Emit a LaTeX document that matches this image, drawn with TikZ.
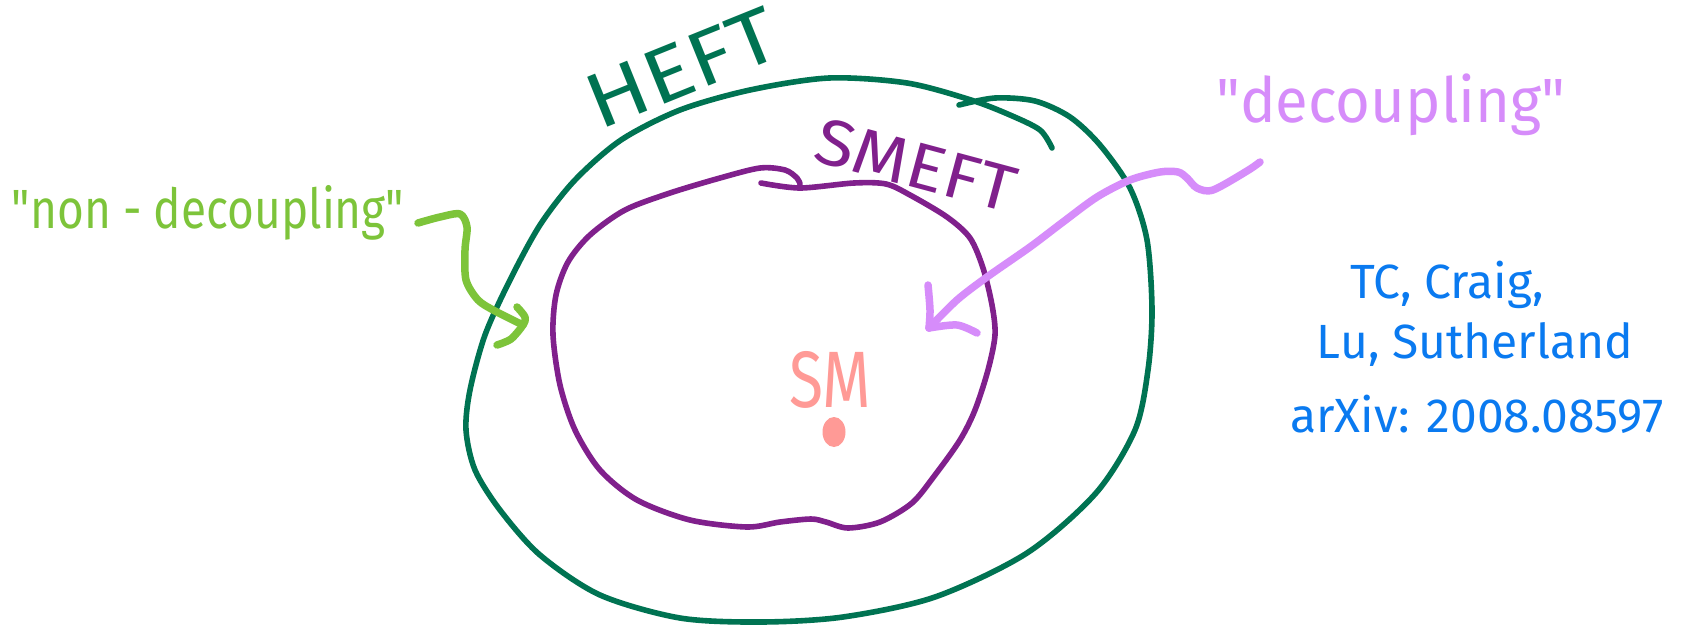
\documentclass[tikz,border=0pt]{standalone}
\usepackage{fontspec}
\newfontfamily\handfont{Fira Sans}
\definecolor{heftc}{RGB}{0,115,82}
\definecolor{smeftc}{RGB}{128,32,140}
\definecolor{nondecc}{RGB}{125,196,58}
\definecolor{decc}{RGB}{214,140,250}
\definecolor{smc}{RGB}{255,154,150}
\definecolor{authc}{RGB}{10,122,240}
\begin{document}
\begin{tikzpicture}[x=1pt,y=-1pt,
  pen/.style={line width=5.6pt, line cap=round, line join=round},
  arrowpen/.style={line width=7.5pt, line cap=round, line join=round},
  lbl/.style={inner sep=0pt, outer sep=0pt, transform shape}]
\useasboundingbox (0,0) rectangle (1693,627);
\fill[white] (0,0) rectangle (1693,627);

% HEFT boundary
\draw[pen, heftc] plot[smooth, tension=0.5] coordinates {
 (1052,148) (1040,130) (1010,115) (971,100) (907,83) (829,78) (750,90) (680,110)
 (621,140) (575,180) (540,225) (510,280) (485,335) (470,390) (466,430) (475,470)
 (500,510) (540,555) (600,595) (680,618) (761,622) (843,617) (935,597) (1027,553)
 (1096,493) (1135,430) (1148,370) (1152,310) (1147,240) (1130,188) (1100,145)
 (1070,117) (1035,101) (995,98) (959,105)};

% SMEFT boundary
\draw[pen, smeftc] plot[smooth, tension=0.5] coordinates {
 (761,183) (800,188) (854,183) (886,184) (910,195) (947,217) (970,238) (983,268)
 (992,305) (995,335) (988,370) (975,410) (960,440) (935,475) (912,503) (880,522)
 (848,528) (826,522) (811,519) (780,522) (747,527) (690,520) (637,500) (600,470)
 (575,430) (560,385) (553,335) (556,295) (568,262) (590,235) (625,210) (670,193)
 (720,178) (760,168) (785,170) (797,178) (800,184)};

% labels
\node[lbl, font=\handfont\fontsize{78}{80}\selectfont, text=heftc, rotate=22, xscale=1.15] (heftlbl) at (682,68) {HEFT};
\node[lbl, font=\handfont\fontsize{65}{67}\selectfont, text=smeftc, rotate=-15, xscale=1.1] (smeftlbl) at (916,165) {SMEFT};
\node[lbl, font=\handfont\fontsize{80}{82}\selectfont, text=smc, xscale=0.78] (smlbl) at (830,380) {SM};
\fill[smc] (834,432) ellipse [x radius=11.5pt, y radius=15pt];

\node[lbl, font=\handfont\fontsize{46}{48}\selectfont, text=nondecc, yscale=1.2, anchor=base] (ndlbl) at (208,228) {"non - decoupling"};
\node[lbl, font=\handfont\fontsize{52}{54}\selectfont, text=decc, xscale=1.15, yscale=1.2, anchor=base] (declbl) at (1391,122) {"decoupling"};

\node[lbl, font=\handfont\fontsize{48}{50}\selectfont, text=authc, anchor=base] (auth1) at (1447,298) {TC, Craig,};
\node[lbl, font=\handfont\fontsize{48}{50}\selectfont, text=authc, anchor=base] (auth2) at (1475,358) {Lu, Sutherland};
\node[lbl, font=\handfont\fontsize{48}{50}\selectfont, text=authc, anchor=base] (auth3) at (1477,432) {arXiv: 2008.08597};

% non-decoupling arrow
\coordinate (gstart) at (418,223);
\coordinate (gtip) at (523,325);
\draw[arrowpen, nondecc] plot[smooth] coordinates {(gstart) (440,217) (460,214) (467,227) (465,250) (466,280) (478,300) (495,311) (gtip)};
\draw[arrowpen, nondecc] plot[smooth] coordinates {(517,307) (525,317) (gtip) (511,339) (497,345)};

% decoupling arrow
\coordinate (lstart) at (1260,162);
\coordinate (ltip) at (929,328);
\draw[arrowpen, decc] plot[smooth] coordinates {(lstart) (1247,171) (1213,190) (1197,188) (1187,178) (1178,172) (1160,172) (1130,180) (1097,197) (1063,222) (1030,247) (987,277) (957,300) (ltip)};
\draw[arrowpen, decc] plot[smooth] coordinates {(928,285) (930,310) (ltip)};
\draw[arrowpen, decc] plot[smooth] coordinates {(ltip) (957,325) (977,333)};
\end{tikzpicture}
\end{document}
